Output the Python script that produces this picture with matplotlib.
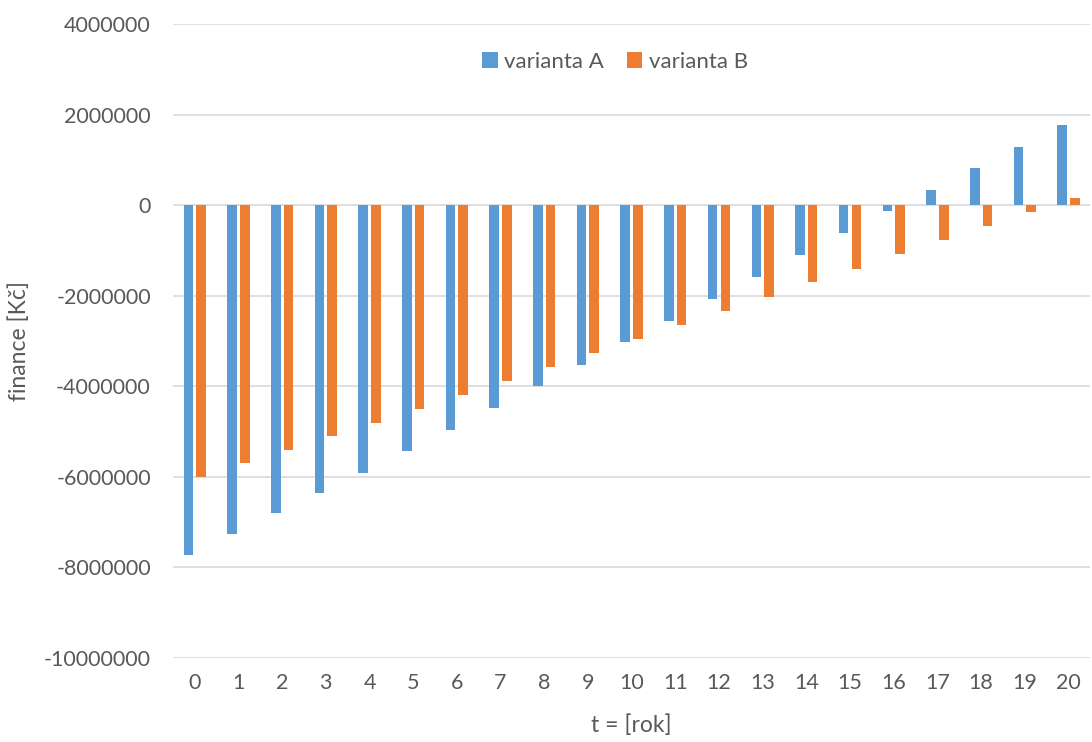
import numpy as np
import matplotlib.pyplot as plt

# Rok (t) a peněžní toky obou variant [Kč]
years = list(range(21))
varianta_a = [-7730000, -7260000, -6800000, -6350000, -5910000, -5440000, -4960000,
              -4480000, -4000000, -3520000, -3030000, -2550000, -2070000, -1580000,
              -1100000, -620000, -140000, 330000, 810000, 1290000, 1770000]
varianta_b = [-6000000, -5690000, -5400000, -5100000, -4800000, -4510000, -4190000,
              -3880000, -3570000, -3270000, -2950000, -2640000, -2330000, -2020000,
              -1700000, -1400000, -1080000, -770000, -460000, -160000, 150000]
y_ticks = [4000000, 2000000, 0, -2000000, -4000000, -6000000, -8000000, -10000000]

plt.rcParams['font.family'] = ['Lato', 'DejaVu Sans']
text_color = '#595959'

fig = plt.figure(figsize=(10.92, 7.42), dpi=100)
ax = fig.add_axes([0.1584, 0.1132, 0.8400, 0.8545])

x = np.arange(len(years))
width = 0.22
ax.bar(x - 0.145, varianta_a, width, color='#5B9BD5', label='varianta A', zorder=3)
ax.bar(x + 0.145, varianta_b, width, color='#ED7D31', label='varianta B', zorder=3)

ax.set_xlim(-0.5, len(years) - 0.5)
ax.set_ylim(-10000000, 4000000)
ax.set_yticks(y_ticks)
ax.set_yticklabels([str(v) for v in y_ticks])
ax.set_xticks(x)
ax.set_xticklabels([str(y) for y in years])

ax.grid(axis='y', color='#D9D9D9', linewidth=1.2, zorder=0)
for s in ax.spines.values():
    s.set_visible(False)
ax.tick_params(axis='both', length=0, labelsize=15.5, colors=text_color)
ax.tick_params(axis='y', pad=16)
ax.tick_params(axis='x', pad=11)

ax.set_xlabel('t = [rok]', fontsize=16.5, color=text_color, labelpad=15)
ax.set_ylabel('finance [Kč]', fontsize=16.5, color=text_color, labelpad=10)

ax.legend(loc='upper center', bbox_to_anchor=(0.482, 0.988), ncol=2, frameon=False,
          fontsize=16, labelcolor=text_color, handlelength=0.7, handleheight=0.7,
          handletextpad=0.3, columnspacing=1.0)

fig.savefig('out.png', dpi=100)
